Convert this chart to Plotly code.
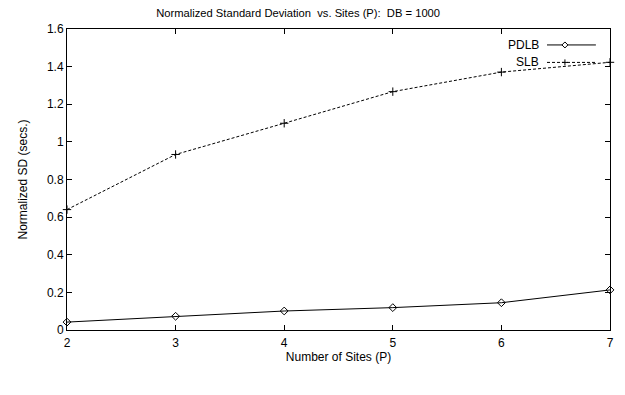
import plotly.graph_objects as go

sites = [2, 3, 4, 5, 6, 7]
pdlb = [0.042, 0.073, 0.101, 0.119, 0.145, 0.213]
slb = [0.64, 0.933, 1.099, 1.267, 1.371, 1.423]
y_ticks = [0, 0.2, 0.4, 0.6, 0.8, 1, 1.2, 1.4, 1.6]
y_tick_labels = ["0", "0.2", "0.4", "0.6", "0.8", "1", "1.2", "1.4", "1.6"]
x_ticks = [2, 3, 4, 5, 6, 7]

FONT = "Liberation Sans, Arial, sans-serif"
DASH = "3px,2px"

fig = go.Figure()
fig.add_trace(go.Scatter(
    x=sites, y=pdlb, mode="lines+markers", name="PDLB",
    line=dict(color="black", width=1),
    marker=dict(symbol="diamond-open", size=6, color="black", line=dict(width=1)),
    cliponaxis=False,
))
fig.add_trace(go.Scatter(
    x=sites, y=slb, mode="lines+markers", name="SLB",
    line=dict(color="black", width=1, dash=DASH),
    marker=dict(symbol="cross-thin-open", size=6, color="black", line=dict(width=1, color="black")),
    cliponaxis=False,
))

axis_common = dict(
    showline=True, linecolor="black", linewidth=1, mirror="ticks",
    ticks="inside", ticklen=5, tickcolor="black", tickwidth=1,
    showgrid=False, zeroline=False,
    tickfont=dict(family=FONT, size=12, color="black"),
)

fig.update_layout(
    width=625, height=395,
    margin=dict(l=67, r=11, t=29, b=65),
    paper_bgcolor="white", plot_bgcolor="white",
    showlegend=False,
    title=dict(text="Normalized Standard Deviation  vs. Sites (P):  DB = 1000",
               x=0.477, xanchor="center", xref="container",
               y=0.968, yanchor="middle", yref="container",
               font=dict(family=FONT, size=11.2, color="black")),
    xaxis=dict(range=[2, 7], tickvals=x_ticks, ticklabelstandoff=2,
               title=dict(text="Number of Sites (P)", standoff=2,
                          font=dict(family=FONT, size=12, color="black")),
               **axis_common),
    yaxis=dict(range=[0, 1.6], tickvals=y_ticks, ticktext=y_tick_labels,
               title=dict(text="Normalized SD (secs.)", standoff=16,
                          font=dict(family=FONT, size=12, color="black")),
               **axis_common),
)

# Legend (gnuplot style: label left, sample right)
legend_items = [("PDLB", "solid", 0.947), ("SLB", DASH, 0.889)]
lx_text = 0.873
lx0, lx1, lxm = 0.884, 0.974, 0.917
for name, dash, yy in legend_items:
    fig.add_annotation(xref="paper", yref="paper", x=lx_text, y=yy, text=name,
                       showarrow=False, xanchor="right", yanchor="middle",
                       font=dict(family=FONT, size=12, color="black"))
    fig.add_shape(type="line", xref="paper", yref="paper",
                  x0=lx0, x1=lx1, y0=yy, y1=yy,
                  line=dict(color="black", width=1, dash=dash))

# legend markers (diamond and plus)
dx, dyy = 0.0055, 0.010
yp = legend_items[0][2]
fig.add_shape(type="path", xref="paper", yref="paper",
              path=f"M {lxm-dx} {yp} L {lxm} {yp+dyy} L {lxm+dx} {yp} L {lxm} {yp-dyy} Z",
              line=dict(color="black", width=1), fillcolor="white")
ys = legend_items[1][2]
fig.add_shape(type="line", xref="paper", yref="paper",
              x0=lxm, x1=lxm, y0=ys - 0.010, y1=ys + 0.010,
              line=dict(color="black", width=1))
fig.add_shape(type="line", xref="paper", yref="paper",
              x0=lxm - 0.0055, x1=lxm + 0.0055, y0=ys, y1=ys,
              line=dict(color="black", width=1))

fig.write_html("out.html")
